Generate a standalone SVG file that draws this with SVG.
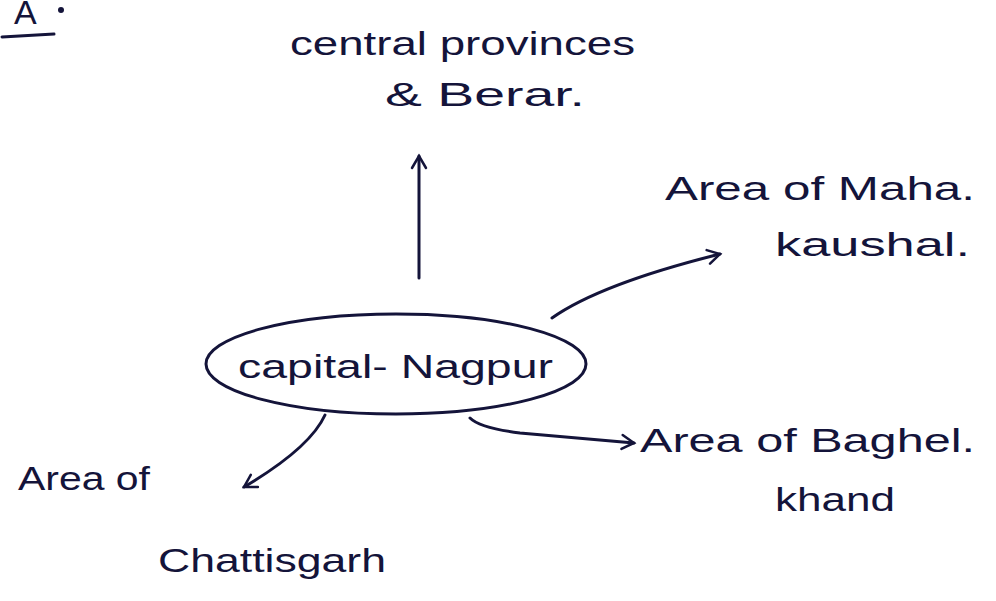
<svg xmlns="http://www.w3.org/2000/svg" width="996" height="601" viewBox="0 0 996 601">
<defs>
<style>
.t{font-family:"Liberation Sans","DejaVu Sans",sans-serif;fill:#14143a;font-size:34px}
.c{fill:none;stroke:#14143a;stroke-width:3;stroke-linecap:round}
</style>
<marker id="ah" viewBox="0 0 20 20" refX="16" refY="10" markerWidth="20" markerHeight="20" markerUnits="userSpaceOnUse" orient="auto">
<polyline points="4,3 16,10 4,17" fill="none" stroke="#14143a" stroke-width="2.5" stroke-linecap="round"/>
</marker>
</defs>
<rect width="996" height="601" fill="#ffffff"/>
<g id="header">
<text class="t" x="14" y="24" font-size="18">A</text>
<circle cx="61" cy="10" r="3" fill="#14143a"/>
<line class="c" x1="2" y1="37" x2="54" y2="34"/>
</g>
<g id="node-cpb">
<text class="t" x="290" y="55" textLength="345" lengthAdjust="spacingAndGlyphs">central provinces</text>
<text class="t" x="385" y="106" textLength="200" lengthAdjust="spacingAndGlyphs">&amp; Berar.</text>
</g>
<g id="node-mahakaushal">
<text class="t" x="665" y="200" textLength="310" lengthAdjust="spacingAndGlyphs">Area of Maha.</text>
<text class="t" x="775" y="256" textLength="195" lengthAdjust="spacingAndGlyphs">kaushal.</text>
</g>
<g id="node-nagpur">
<ellipse cx="396" cy="364" rx="190" ry="50" fill="none" stroke="#14143a" stroke-width="3"/>
<text class="t" x="238" y="378" textLength="315" lengthAdjust="spacingAndGlyphs">capital- Nagpur</text>
</g>
<g id="node-baghelkhand">
<text class="t" x="640" y="452" textLength="335" lengthAdjust="spacingAndGlyphs">Area of Baghel.</text>
<text class="t" x="775" y="511" textLength="120" lengthAdjust="spacingAndGlyphs">khand</text>
</g>
<g id="node-chhattisgarh">
<text class="t" x="18" y="490" textLength="132" lengthAdjust="spacingAndGlyphs">Area of</text>
<text class="t" x="158" y="572" textLength="228" lengthAdjust="spacingAndGlyphs">Chattisgarh</text>
</g>
<g id="connectors">
<path class="c" d="M419,278 L419,156" marker-end="url(#ah)"/>
<path class="c" d="M552,318 Q600,284 720,254" marker-end="url(#ah)"/>
<path class="c" d="M470,418 Q480,428 520,433 L634,443" marker-end="url(#ah)"/>
<path class="c" d="M325,415 Q310,448 244,487" marker-end="url(#ah)"/>
</g>
</svg>
